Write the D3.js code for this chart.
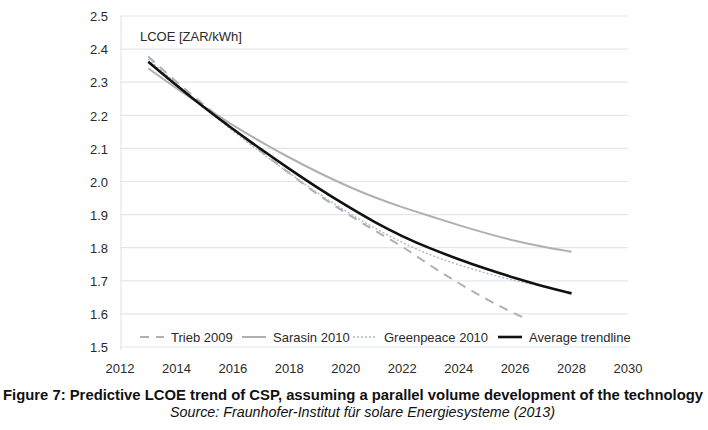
<!DOCTYPE html>
<html>
<head>
<meta charset="utf-8">
<style>
  body { margin: 0; padding: 0; background: #fff; }
  svg { display: block; font-family: "Liberation Sans", Arial, sans-serif; }
</style>
<script src="https://d3js.org/d3.v7.min.js"></script>
</head>
<body>
<svg id="chart" width="708" height="430"></svg>
<script>
// values
const years = [2013, 2014, 2015, 2016, 2017, 2018, 2019, 2020, 2021, 2022, 2023, 2024, 2025, 2026, 2027, 2028];
const average = [2.362, 2.29, 2.222, 2.158, 2.097, 2.038, 1.981, 1.928, 1.878, 1.834, 1.797, 1.765, 1.735, 1.708, 1.683, 1.662];
const sarasin = [2.342, 2.281, 2.224, 2.17, 2.119, 2.072, 2.028, 1.988, 1.952, 1.922, 1.895, 1.868, 1.843, 1.82, 1.802, 1.788];
const triebYears = [2013, 2014, 2015, 2016, 2017, 2018, 2019, 2020, 2021, 2022, 2023, 2024, 2025, 2026, 2026.4];
const trieb = [2.378, 2.30, 2.23, 2.16, 2.09, 2.025, 1.96, 1.905, 1.852, 1.805, 1.745, 1.693, 1.643, 1.60, 1.585];
const greenYears = [2013, 2014, 2015, 2016, 2017, 2018, 2019, 2020, 2021, 2022, 2023, 2024, 2025, 2026, 2026.6];
const greenpeace = [2.37, 2.295, 2.222, 2.152, 2.087, 2.025, 1.965, 1.91, 1.86, 1.815, 1.777, 1.748, 1.722, 1.70, 1.69];

const xTicks = [2012, 2014, 2016, 2018, 2020, 2022, 2024, 2026, 2028, 2030];
const yTicks = [1.5, 1.6, 1.7, 1.8, 1.9, 2.0, 2.1, 2.2, 2.3, 2.4, 2.5];

const seriesNames = ['Trieb 2009', 'Sarasin 2010', 'Greenpeace 2010', 'Average trendline'];
const unitLabel = 'LCOE [ZAR/kWh]';
const captionTitle = 'Figure 7: Predictive LCOE trend of CSP, assuming a parallel volume development of the technology';
const captionSource = 'Source: Fraunhofer-Institut für solare Energiesysteme (2013)';

const svg = d3.select('#chart');

const x = d3.scaleLinear().domain([2012, 2030]).range([120, 628]);
const y = d3.scaleLinear().domain([1.5, 2.5]).range([347, 16]);

const gridColor = '#e2e7ec';
const textColor = '#2a2a2a';

// horizontal gridlines
svg.append('g')
  .selectAll('line')
  .data(yTicks)
  .enter()
  .append('line')
  .attr('x1', x(2012))
  .attr('x2', x(2030))
  .attr('y1', d => y(d))
  .attr('y2', d => y(d))
  .attr('stroke', gridColor)
  .attr('stroke-width', 1.2);

// left axis line
svg.append('line')
  .attr('x1', x(2012) + 1)
  .attr('x2', x(2012) + 1)
  .attr('y1', y(2.5))
  .attr('y2', y(1.5) + 3)
  .attr('stroke', gridColor)
  .attr('stroke-width', 1.2);

// y tick labels
svg.append('g')
  .selectAll('text')
  .data(yTicks)
  .enter()
  .append('text')
  .attr('x', 108)
  .attr('y', d => y(d))
  .attr('dy', '0.4em')
  .attr('text-anchor', 'end')
  .attr('font-size', 13)
  .attr('fill', textColor)
  .text(d => d.toFixed(1));

// x tick labels
svg.append('g')
  .selectAll('text')
  .data(xTicks)
  .enter()
  .append('text')
  .attr('x', d => x(d))
  .attr('y', 373)
  .attr('text-anchor', 'middle')
  .attr('font-size', 13)
  .attr('fill', textColor)
  .text(d => d);

svg.append('text')
  .attr('x', 140)
  .attr('y', 41)
  .attr('font-size', 13)
  .attr('fill', textColor)
  .text(unitLabel);

const line = d3.line()
  .x(d => x(d[0]))
  .y(d => y(d[1]))
  .curve(d3.curveBasis);

const styles = [
  { stroke: '#b0b0b0', width: 2, dash: '9,7' },
  { stroke: '#b0b0b0', width: 2, dash: null },
  { stroke: '#a9b9c9', width: 1.4, dash: '2,2' },
  { stroke: '#111111', width: 2.6, dash: null }
];

const seriesData = [
  d3.zip(triebYears, trieb),
  d3.zip(years, sarasin),
  d3.zip(greenYears, greenpeace),
  d3.zip(years, average)
];

seriesData.forEach((pts, i) => {
  svg.append('path')
    .datum(pts)
    .attr('fill', 'none')
    .attr('stroke', styles[i].stroke)
    .attr('stroke-width', styles[i].width)
    .attr('stroke-dasharray', styles[i].dash)
    .attr('d', line);
});

// legend along the bottom of the plot
const legendX = [140, 242, 353, 498];
const legendY = 337;
const legend = svg.append('g');
seriesNames.forEach((name, i) => {
  legend.append('line')
    .attr('x1', legendX[i])
    .attr('x2', legendX[i] + 24)
    .attr('y1', legendY)
    .attr('y2', legendY)
    .attr('stroke', styles[i].stroke)
    .attr('stroke-width', styles[i].width)
    .attr('stroke-dasharray', styles[i].dash);
  legend.append('text')
    .attr('x', legendX[i] + 31)
    .attr('y', legendY)
    .attr('dy', '0.36em')
    .attr('font-size', 13)
    .attr('fill', textColor)
    .text(name);
});

// caption
svg.append('text')
  .attr('x', 3)
  .attr('y', 400)
  .attr('font-size', 14.5)
  .attr('font-weight', 'bold')
  .attr('fill', '#111')
  .attr('textLength', 700)
  .attr('lengthAdjust', 'spacingAndGlyphs')
  .text(captionTitle);

svg.append('text')
  .attr('x', 170)
  .attr('y', 417)
  .attr('font-size', 14)
  .attr('font-style', 'italic')
  .attr('fill', '#111')
  .attr('textLength', 385)
  .attr('lengthAdjust', 'spacingAndGlyphs')
  .text(captionSource);
</script>
</body>
</html>
